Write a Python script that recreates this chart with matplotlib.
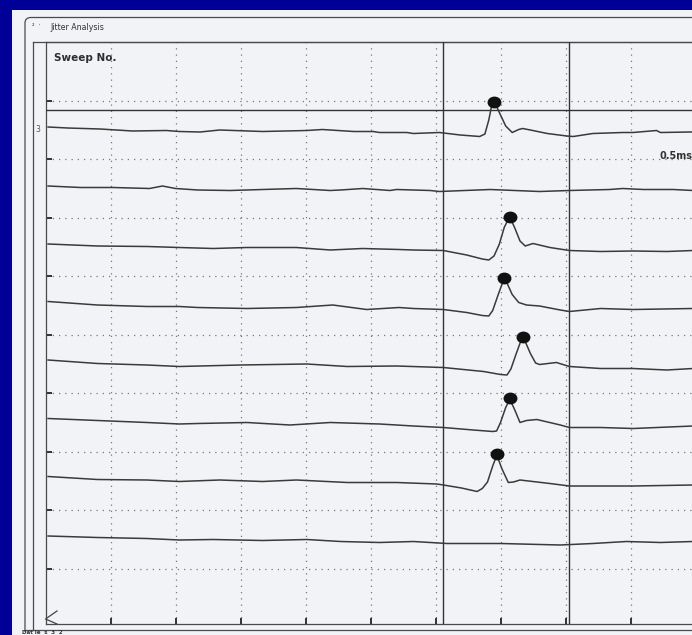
import numpy as np
import matplotlib
matplotlib.use("Agg")
import matplotlib.pyplot as plt
from matplotlib.path import Path
from matplotlib.patches import PathPatch, Rectangle
from matplotlib.markers import MarkerStyle
from matplotlib.transforms import Affine2D

# ---------------- data (time in ms, amplitude in uV) ----------------
SWEEP_SPACING = 117.0          # uV between consecutive sweeps
SWEEP_LABELS = ["3", "", "", "", "", "", "", ""]

t_s1 = [0.02, 0.17, 0.42, 0.67, 0.93, 1.03, 1.19, 1.34, 1.67, 2.01, 2.13, 2.37, 2.52, 2.57, 2.78, 2.83,
        3.03, 3.19, 3.34, 3.38, 3.41, 3.43, 3.45, 3.47, 3.50, 3.54, 3.59, 3.64, 3.67, 3.73, 3.86, 4.01,
        4.06, 4.21, 4.44, 4.52, 4.70, 4.73, 4.96, 4.98]
a_s1 = [6, 4, 2, -2, -1, -3, -4, 0, -3, -1, 1, -3, -3, -5, -5, -7,
        -5, -10, -13, -8, 20, 46, 52, 47, 30, 8, -5, 1, 3, 0, -7, -12,
        -13, -7, -5, -5, -1, -5, -4, -4]

t_s2 = [0.02, 0.27, 0.52, 0.80, 0.90, 1.00, 1.17, 1.42, 1.67, 1.93, 2.19, 2.27, 2.44, 2.65, 2.70, 2.96,
        3.03, 3.42, 3.80, 4.03, 4.34, 4.44, 4.60, 4.83, 4.98]
a_s2 = [5, 2, 2, 0, 5, 0, -3, -4, -2, 0, -4, -3, 0, -4, -2, -4,
        -6, -2, -6, -4, -2, 0, -2, -2, -4]

t_s3 = [0.02, 0.40, 0.78, 1.03, 1.29, 1.55, 1.93, 2.19, 2.44, 2.72, 2.83, 3.06, 3.24, 3.36, 3.41, 3.45,
        3.49, 3.53, 3.56, 3.58, 3.61, 3.65, 3.69, 3.75, 3.88, 4.03, 4.27, 4.52, 4.78, 4.98]
a_s3 = [6, 2, 1, -1, -3, -1, -1, -6, -3, -5, -6, -7, -16, -24, -26, -18,
        5, 40, 55, 55, 38, 12, 2, 7, -1, -7, -9, -8, -9, -7]

t_s4 = [0.02, 0.40, 0.78, 1.03, 1.17, 1.55, 1.93, 2.21, 2.47, 2.72, 2.83, 3.06, 3.24, 3.36, 3.41, 3.44,
        3.48, 3.515, 3.53, 3.55, 3.59, 3.64, 3.70, 3.80, 3.96, 4.03, 4.27, 4.52, 4.98]
a_s4 = [8, 1, -2, -2, -4, -6, -4, 1, -8, -4, -6, -8, -14, -20, -21, -10,
        20, 45, 49, 45, 22, 6, 1, -1, -9, -12, -6, -8, -6]

t_s5 = [0.02, 0.40, 0.78, 1.03, 1.50, 2.01, 2.32, 2.70, 3.06, 3.37, 3.50, 3.55, 3.58, 3.62, 3.655, 3.675,
        3.695, 3.73, 3.77, 3.80, 3.93, 4.03, 4.27, 4.52, 4.78, 4.98]
a_s5 = [8, 1, -2, -5, -2, 0, -5, -4, -7, -15, -21, -22, -10, 20, 45, 48,
        42, 21, 2, -1, 3, -5, -9, -9, -12, -9]

t_s6 = [0.02, 0.40, 0.78, 1.03, 1.17, 1.55, 1.88, 2.19, 2.57, 2.83, 3.06, 3.29, 3.44, 3.47, 3.50, 3.54,
        3.565, 3.58, 3.61, 3.65, 3.70, 3.78, 3.96, 4.03, 4.27, 4.52, 4.98]
a_s6 = [8, 4, 0, -3, -2, 0, -5, 0, -3, -7, -10, -15, -18, -17, 0, 30,
        43, 42, 25, 0, 4, 6, -5, -10, -10, -12, -7]

t_s7 = [0.02, 0.40, 0.78, 1.03, 1.34, 1.67, 1.93, 2.32, 2.70, 3.01, 3.06, 3.20, 3.32, 3.36, 3.40, 3.44,
        3.465, 3.48, 3.51, 3.56, 3.60, 3.65, 3.88, 4.03, 4.52, 4.98]
a_s7 = [9, 3, 2, -1, 2, -1, 2, -3, -3, -6, -8, -14, -21, -15, -2, 30,
        47, 46, 25, -3, -2, 2, -5, -10, -10, -8]

t_s8 = [0.02, 0.40, 0.78, 1.03, 1.29, 1.67, 2.01, 2.27, 2.57, 2.83, 3.09, 3.50, 3.96, 4.21, 4.47, 4.73, 4.98]
a_s8 = [7, 4, 2, -1, 0, -2, 0, -4, -6, -4, -8, -8, -11, -8, -4, -6, -4]

SWEEP_T = [t_s1, t_s2, t_s3, t_s4, t_s5, t_s6, t_s7, t_s8]
SWEEP_A = [a_s1, a_s2, a_s3, a_s4, a_s5, a_s6, a_s7, a_s8]

# marked peaks (nan = blocking, no potential)
PEAK_T = [3.45, np.nan, 3.57, 3.53, 3.67, 3.57, 3.47, np.nan]
PEAK_A = [56, np.nan, 60, 55, 54, 49, 54, np.nan]

CURSOR_T = [3.06, 4.03]        # vertical cursors (ms)
CURSOR_A = 40                  # horizontal cursor (uV, top sweep)
GRID_MS = 0.5
SCALE_LABEL = "0.5ms"

# ---------------- figure ----------------
W, H = 692, 635
fig = plt.figure(figsize=(W / 100, H / 100), dpi=100)
fig.patch.set_facecolor("#000099")

bg = fig.add_axes([0, 0, 1, 1])
bg.set_xlim(0, W)
bg.set_ylim(H, 0)
bg.axis("off")
frame_c = "#4a4a4a"
bg.add_patch(Rectangle((12, 10), W, H, facecolor="#F2F3F6", edgecolor="none"))
# outer window border with rounded top-left corner
verts = [(25, 632), (25, 23), (25, 17.5), (31, 17.5), (W + 5, 17.5)]
codes = [Path.MOVETO, Path.LINETO, Path.CURVE3, Path.CURVE3, Path.LINETO]
bg.add_patch(PathPatch(Path(verts, codes), facecolor="none", edgecolor=frame_c, lw=0.9))
bg.plot([32.5, 32.5], [42, 630], color=frame_c, lw=0.9)
bg.plot([32.5, W], [42, 42], color=frame_c, lw=0.9)
bg.plot([25, W], [630, 630], color=frame_c, lw=0.9)
bg.text(50, 28, "Jitter Analysis", fontsize=5.7, color="#333333", va="center", ha="left")
bg.text(32, 27, "²  ˈ", fontsize=4.5, color="#333333", va="center", ha="left")
bg.text(54, 58, "Sweep No.", fontsize=7.5, fontweight="bold", color="#2e2e2e", va="center", ha="left")
bg.text(22, 634.6, "Dat ie  s  3  2", fontsize=4, fontweight="bold", color="#333333",
        va="bottom", ha="left")

ax = fig.add_axes([45.5 / W, 1 - 624 / H, (W - 45.5) / W, (624 - 42) / H])
ax.set_facecolor("none")
ax.set_xlim(0, (W - 45.5) / 130.0)
ax.set_ylim(2 * (130 - 624), 2 * (130 - 42))

n = len(SWEEP_T)
grid_y = [SWEEP_SPACING * (0.5 - i) for i in range(n + 1)]
ax.set_xticks(np.arange(GRID_MS, 4.75, GRID_MS))
ax.set_yticks(grid_y)
ax.grid(True, linestyle=(0, (1, 4)), linewidth=0.9, color="#777777")
ax.tick_params(axis="both", direction="in", length=4.5, width=1.4, color="#333333",
               labelbottom=False, labelleft=False)
for s in ["top", "left", "bottom"]:
    ax.spines[s].set_color(frame_c)
    ax.spines[s].set_linewidth(0.9)
ax.spines["right"].set_visible(False)

for tc in CURSOR_T:
    ax.axvline(tc, color="#333333", lw=1.0, zorder=3)
ax.axhline(CURSOR_A, color="#333333", lw=1.0, zorder=3)

ell = Path.unit_circle().transformed(Affine2D().scale(1.2, 1.0))
for i in range(n):
    off = -i * SWEEP_SPACING
    ax.plot(SWEEP_T[i], np.array(SWEEP_A[i]) + off, color="#3a3a3a", lw=1.1, zorder=4,
            solid_joinstyle="round")
    if not np.isnan(PEAK_T[i]):
        ax.plot([PEAK_T[i]], [PEAK_A[i] + off], ls="none", marker=MarkerStyle(ell),
                ms=9, color="#111111", zorder=5)
    if SWEEP_LABELS[i]:
        ax.text(-0.0116, off, SWEEP_LABELS[i], transform=ax.get_yaxis_transform(),
                fontsize=5.5, color="#555555", ha="center", va="center")

ax.text(4.72, -52, SCALE_LABEL, fontsize=7, fontweight="bold", color="#333333",
        ha="left", va="center", clip_on=False)

# small "<" marker at the lower left corner
ov = fig.add_axes([0, 0, 1, 1], zorder=10)
ov.set_xlim(0, W)
ov.set_ylim(H, 0)
ov.axis("off")
ov.plot([57, 45.5, 57], [611, 619, 624], color="#444444", lw=0.9)

fig.savefig("out.png", dpi=100, facecolor=fig.get_facecolor())
